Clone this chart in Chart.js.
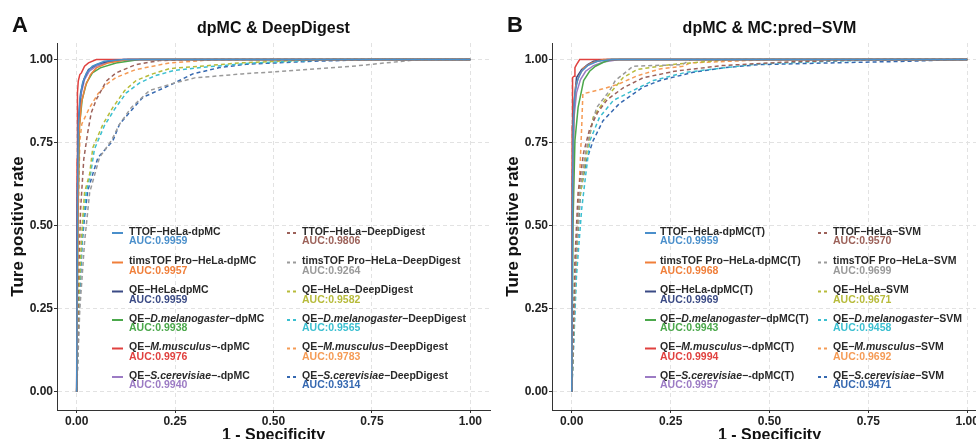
<!DOCTYPE html>
<html>
<head>
<meta charset="utf-8">
<script src="https://cdn.jsdelivr.net/npm/chart.js@4/dist/chart.umd.min.js"></script>
<style>
html, body { margin: 0; padding: 0; background: #fff; overflow: hidden; width: 976px; height: 439px; }
#chartA { position: absolute; left: 0; top: 0; }
#chartB { position: absolute; left: 492px; top: 0; }
</style>
</head>
<body>
<canvas id="chartA" width="492" height="439"></canvas>
<canvas id="chartB" width="500" height="439"></canvas>
<script>
// ROC points are [1 - specificity, true positive rate]
// panel A : dpMC vs DeepDigest
const aTtofDpmc   = [[0,0],[0.002,0.55],[0.004,0.8],[0.008,0.88],[0.015,0.93],[0.025,0.96],[0.04,0.98],[0.07,0.995],[0.12,1],[1,1]];
const aTimsDpmc   = [[0,0],[0.003,0.5],[0.006,0.78],[0.012,0.87],[0.022,0.92],[0.035,0.955],[0.05,0.975],[0.08,0.99],[0.13,1],[1,1]];
const aQeHelaDpmc = [[0,0],[0.002,0.6],[0.005,0.82],[0.01,0.9],[0.018,0.94],[0.03,0.97],[0.05,0.985],[0.08,0.995],[0.12,1],[1,1]];
const aDmelDpmc   = [[0,0],[0.003,0.5],[0.007,0.8],[0.014,0.88],[0.025,0.93],[0.04,0.96],[0.06,0.975],[0.1,0.99],[0.16,1],[1,1]];
const aMmusDpmc   = [[0,0],[0.001,0.7],[0.002,0.9],[0.004,0.935],[0.008,0.955],[0.012,0.96],[0.02,0.98],[0.03,0.99],[0.05,1],[1,1]];
const aScerDpmc   = [[0,0],[0.002,0.55],[0.006,0.82],[0.012,0.9],[0.02,0.94],[0.032,0.965],[0.05,0.98],[0.08,0.992],[0.13,1],[1,1]];

const aTtofDD   = [[0,0],[0.004,0.3],[0.01,0.55],[0.018,0.7],[0.028,0.78],[0.037,0.84],[0.05,0.88],[0.075,0.935],[0.1,0.96],[0.15,0.985],[0.21,0.997],[0.3,1],[1,1]];
const aTimsDD   = [[0,0],[0.008,0.25],[0.02,0.45],[0.033,0.6],[0.058,0.705],[0.088,0.756],[0.109,0.806],[0.139,0.856],[0.185,0.907],[0.25,0.93],[0.3,0.945],[0.42,0.957],[0.55,0.967],[0.7,0.98],[0.87,1],[1,1]];
const aQeHelaDD = [[0,0],[0.006,0.3],[0.014,0.5],[0.02,0.6],[0.033,0.656],[0.041,0.735],[0.067,0.806],[0.092,0.856],[0.122,0.907],[0.151,0.937],[0.193,0.957],[0.236,0.973],[0.312,0.98],[0.414,0.99],[0.6,1],[1,1]];
const aDmelDD   = [[0,0],[0.007,0.3],[0.016,0.5],[0.024,0.6],[0.036,0.66],[0.045,0.73],[0.07,0.8],[0.096,0.85],[0.126,0.9],[0.16,0.93],[0.2,0.952],[0.25,0.968],[0.33,0.978],[0.45,0.99],[0.65,1],[1,1]];
const aMmusDD   = [[0,0],[0.003,0.4],[0.006,0.65],[0.008,0.756],[0.013,0.806],[0.033,0.856],[0.054,0.897],[0.075,0.925],[0.1,0.946],[0.15,0.97],[0.236,0.99],[0.35,1],[1,1]];
const aScerDD   = [[0,0],[0.008,0.3],[0.014,0.45],[0.02,0.525],[0.028,0.605],[0.041,0.656],[0.054,0.705],[0.092,0.756],[0.109,0.806],[0.141,0.85],[0.168,0.886],[0.244,0.927],[0.295,0.957],[0.363,0.976],[0.43,0.986],[0.6,0.995],[0.75,1],[1,1]];

// panel B : dpMC(T) vs MC:pred-SVM
const bTtofDpmc   = [[0,0],[0.002,0.6],[0.004,0.82],[0.008,0.9],[0.015,0.94],[0.025,0.965],[0.04,0.982],[0.065,0.995],[0.1,1],[1,1]];
const bTimsDpmc   = [[0,0],[0.002,0.6],[0.005,0.85],[0.01,0.92],[0.018,0.95],[0.03,0.975],[0.05,0.99],[0.08,1],[1,1]];
const bQeHelaDpmc = [[0,0],[0.002,0.65],[0.005,0.86],[0.012,0.946],[0.025,0.97],[0.04,0.985],[0.055,0.995],[0.09,1],[1,1]];
const bDmelDpmc   = [[0,0],[0.003,0.5],[0.008,0.756],[0.016,0.856],[0.03,0.937],[0.045,0.965],[0.06,0.98],[0.08,0.992],[0.1,1],[1,1]];
const bMmusDpmc   = [[0,0],[0.001,0.8],[0.002,0.946],[0.006,0.95],[0.008,0.976],[0.012,0.985],[0.02,1],[1,1]];
const bScerDpmc   = [[0,0],[0.002,0.55],[0.006,0.83],[0.012,0.9],[0.022,0.94],[0.035,0.965],[0.055,0.982],[0.08,0.993],[0.12,1],[1,1]];

const bTtofSvm   = [[0,0],[0.008,0.4],[0.016,0.6],[0.03,0.72],[0.045,0.79],[0.065,0.84],[0.09,0.88],[0.13,0.915],[0.18,0.945],[0.26,0.965],[0.38,0.982],[0.55,0.993],[0.75,1],[1,1]];
const bTimsSvm   = [[0,0],[0.01,0.4],[0.02,0.6],[0.035,0.72],[0.05,0.8],[0.063,0.856],[0.096,0.907],[0.11,0.937],[0.155,0.98],[0.28,0.985],[0.3,1],[1,1]];
const bQeHelaSvm = [[0,0],[0.01,0.4],[0.02,0.58],[0.035,0.7],[0.054,0.826],[0.088,0.886],[0.13,0.946],[0.165,0.97],[0.25,0.985],[0.4,1],[1,1]];
const bDmelSvm   = [[0,0],[0.012,0.35],[0.025,0.55],[0.035,0.65],[0.046,0.756],[0.07,0.826],[0.105,0.877],[0.155,0.907],[0.206,0.937],[0.29,0.962],[0.39,0.976],[0.475,0.987],[0.65,0.995],[0.8,1],[1,1]];
const bMmusSvm   = [[0,0],[0.008,0.3],[0.015,0.5],[0.02,0.65],[0.025,0.795],[0.028,0.897],[0.079,0.912],[0.12,0.927],[0.165,0.951],[0.223,0.972],[0.281,0.98],[0.3,0.99],[0.4,0.995],[0.5,1],[1,1]];
const bScerSvm   = [[0,0],[0.012,0.4],[0.022,0.6],[0.037,0.696],[0.054,0.756],[0.079,0.816],[0.12,0.867],[0.18,0.917],[0.223,0.937],[0.307,0.962],[0.39,0.976],[0.475,0.985],[0.65,0.99],[0.85,0.995],[0.97,1],[1,1]];

// legend names (*...* = italic) and AUC values
const namesA = ['TTOF−HeLa-dpMC', 'timsTOF Pro−HeLa-dpMC', 'QE−HeLa-dpMC', 'QE−*D.melanogaster*−dpMC', 'QE−*M.musculus*−-dpMC', 'QE−*S.cerevisiae*−-dpMC',
                'TTOF−HeLa−DeepDigest', 'timsTOF Pro−HeLa−DeepDigest', 'QE−HeLa−DeepDigest', 'QE−*D.melanogaster*−DeepDigest', 'QE−*M.musculus*−DeepDigest', 'QE−*S.cerevisiae*−DeepDigest'];
const aucA = [0.9959, 0.9957, 0.9959, 0.9938, 0.9976, 0.9940, 0.9806, 0.9264, 0.9582, 0.9565, 0.9783, 0.9314];
const namesB = ['TTOF−HeLa-dpMC(T)', 'timsTOF Pro−HeLa-dpMC(T)', 'QE−HeLa-dpMC(T)', 'QE−*D.melanogaster*−dpMC(T)', 'QE−*M.musculus*−-dpMC(T)', 'QE−*S.cerevisiae*−-dpMC(T)',
                'TTOF−HeLa−SVM', 'timsTOF Pro−HeLa−SVM', 'QE−HeLa−SVM', 'QE−*D.melanogaster*−SVM', 'QE−*M.musculus*−SVM', 'QE−*S.cerevisiae*−SVM'];
const aucB = [0.9959, 0.9968, 0.9969, 0.9943, 0.9994, 0.9957, 0.9570, 0.9699, 0.9671, 0.9458, 0.9692, 0.9471];
const tickVals = [0, 0.25, 0.5, 0.75, 1];

const FONT = '"Liberation Sans", Arial, sans-serif';
const COLORS = ['#4a8fcb', '#f07f3a', '#3a4a85', '#4ba84b', '#e0413f', '#9c7bc4',
                '#9c6159', '#9a9a9a', '#b7bb3a', '#3bbfd0', '#f59b55', '#3568b0'];
const ROW_Y = [232, 261.5, 290.5, 319, 347.5, 376];

function makeDatasets(curves, names) {
  return curves.map((pts, i) => ({
    label: names[i].replace(/\*/g, ''),
    data: pts.map(p => ({x: p[0], y: p[1]})),
    showLine: true,
    borderColor: COLORS[i],
    borderWidth: 1.5,
    borderDash: i < 6 ? [] : [4, 3],
    pointRadius: 0,
    tension: 0,
    fill: false
  }));
}

const rocLegend = {
  id: 'rocLegend',
  afterDraw(chart, _a, o) {
    const ctx = chart.ctx;
    const ca = chart.chartArea;
    ctx.save();
    ctx.textBaseline = 'middle';
    ctx.fillStyle = '#111';
    ctx.textAlign = 'left';
    ctx.font = 'bold 22px ' + FONT;
    ctx.fillText(o.letter, o.letterX, 26);
    ctx.textAlign = 'center';
    ctx.font = 'bold 16px ' + FONT;
    ctx.fillText(o.title, (ca.left + ca.right) / 2, 29);
    ctx.textAlign = 'left';
    o.names.forEach((name, i) => {
      const col = i < 6 ? 0 : 1;
      const y = ROW_Y[i % 6];
      const sx = o.symX[col], tx = o.textX[col];
      ctx.strokeStyle = COLORS[i];
      ctx.lineWidth = 2;
      ctx.setLineDash(col ? [3, 3] : []);
      ctx.beginPath();
      ctx.moveTo(sx, y + 1);
      ctx.lineTo(sx + 11, y + 1);
      ctx.stroke();
      let x = tx;
      ctx.fillStyle = '#2a2a2a';
      name.split('*').forEach((seg, k) => {
        ctx.font = (k % 2 ? 'italic ' : '') + 'bold 10.5px ' + FONT;
        ctx.fillText(seg, x, y);
        x += ctx.measureText(seg).width;
      });
      ctx.font = 'bold 10.5px ' + FONT;
      ctx.fillStyle = COLORS[i];
      ctx.fillText('AUC:' + o.auc[i].toFixed(4), tx, y + 9.5);
    });
    ctx.restore();
  }
};

function axisOpts(yWidth, yTitlePad) {
  const ticks = {
    color: '#222', padding: 1, autoSkip: false, maxRotation: 0,
    font: {family: FONT, size: 12, weight: 'bold'},
    callback: v => Number(v).toFixed(2)
  };
  const grid = {color: '#e2e2e2', lineWidth: 1, tickLength: 3, tickColor: '#333', tickBorderDash: [], tickWidth: 1};
  const border = {display: true, color: '#333', width: 1, dash: [4, 3]};
  const titleFont = {family: FONT, size: 16, weight: 'bold'};
  return {
    x: {
      type: 'linear', min: -0.05, max: 1.05,
      afterBuildTicks: s => { s.ticks = tickVals.map(v => ({value: v})); },
      afterFit: s => { s.height = 29; },
      ticks, grid, border,
      title: {display: true, text: '1 - Specificity', color: '#111', font: titleFont, padding: {top: 0, bottom: -6}}
    },
    y: {
      type: 'linear', min: -0.055, max: 1.05,
      afterBuildTicks: s => { s.ticks = tickVals.map(v => ({value: v})); },
      afterFit: s => { s.width = yWidth; },
      ticks, grid, border,
      title: {display: true, text: 'Ture positive rate', color: '#111', font: {family: FONT, size: 17, weight: 'bold'}, padding: {top: yTitlePad, bottom: 0}}
    }
  };
}

function makeChart(id, curves, names, auc, opts) {
  return new Chart(document.getElementById(id), {
    type: 'scatter',
    data: {datasets: makeDatasets(curves, names)},
    options: {
      responsive: false,
      animation: false,
      layout: {padding: {top: 43, bottom: 0, left: 0, right: opts.padRight}},
      scales: axisOpts(opts.yWidth, opts.yTitlePad),
      plugins: {
        legend: {display: false},
        tooltip: {enabled: false},
        rocLegend: {letter: opts.letter, letterX: opts.letterX, title: opts.title, names, auc, symX: opts.symX, textX: opts.textX}
      }
    },
    plugins: [rocLegend]
  });
}

makeChart('chartA',
  [aTtofDpmc, aTimsDpmc, aQeHelaDpmc, aDmelDpmc, aMmusDpmc, aScerDpmc, aTtofDD, aTimsDD, aQeHelaDD, aDmelDD, aMmusDD, aScerDD],
  namesA, aucA,
  {letter: 'A', letterX: 12, title: 'dpMC & DeepDigest', yWidth: 57, yTitlePad: 8, padRight: 2, symX: [112, 287], textX: [129, 302]});

makeChart('chartB',
  [bTtofDpmc, bTimsDpmc, bQeHelaDpmc, bDmelDpmc, bMmusDpmc, bScerDpmc, bTtofSvm, bTimsSvm, bQeHelaSvm, bDmelSvm, bMmusSvm, bScerSvm],
  namesB, aucB,
  {letter: 'B', letterX: 15, title: 'dpMC & MC:pred−SVM', yWidth: 60, yTitlePad: 11, padRight: 5, symX: [153, 326], textX: [168, 341]});
</script>
</body>
</html>
